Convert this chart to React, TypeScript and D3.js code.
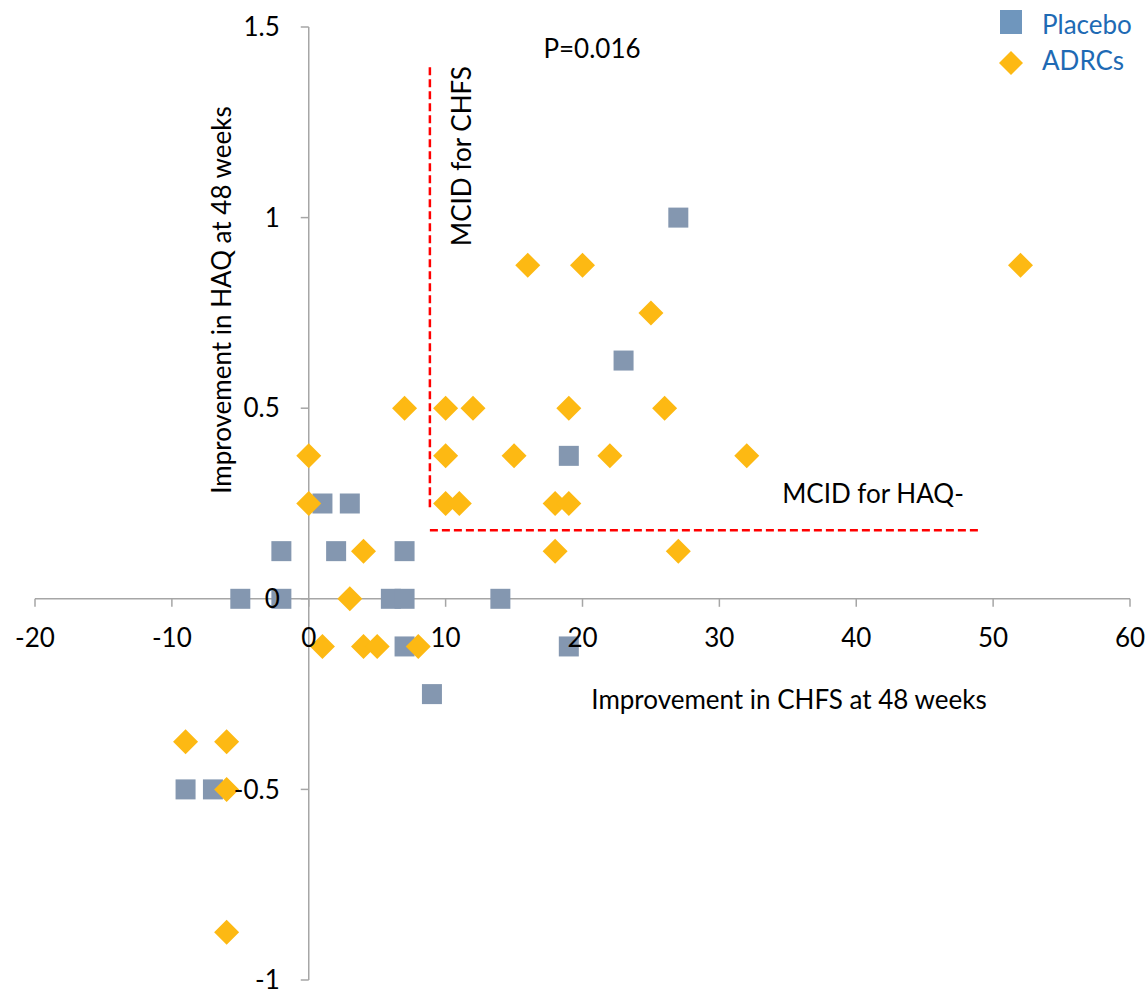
import React from "react";
import * as d3 from "d3";

const placeboX = [1, 3, -2, 2, 7, -5, -2, 6, 7, 14, 7, 9, 19, -9, -7, 27, 23, 19];
const placeboY = [0.25, 0.25, 0.125, 0.125, 0.125, 0, 0, 0, 0, 0, -0.125, -0.25, -0.125, -0.5, -0.5, 1.0, 0.625, 0.375];

const adrcX = [0, 10, 11, 18, 19, 4, 18, 27, 3, 1, 4, 5, 8, -9, -6, -6, -6, 0, 10, 15, 22, 32, 7, 10, 12, 19, 26, 25, 16, 20, 52];
const adrcY = [0.25, 0.25, 0.25, 0.25, 0.25, 0.125, 0.125, 0.125, 0, -0.125, -0.125, -0.125, -0.125, -0.375, -0.375, -0.5, -0.875, 0.375, 0.375, 0.375, 0.375, 0.375, 0.5, 0.5, 0.5, 0.5, 0.5, 0.75, 0.875, 0.875, 0.875];

const xTicks = [-20, -10, 0, 10, 20, 30, 40, 50, 60];
const yTicks = [-1, -0.5, 0, 0.5, 1, 1.5];

const mcidChfs = 8.85;
const mcidChfsRange = [0.24, 1.4];
const mcidHaq = 0.18;
const mcidHaqRange = [8.85, 49];

const seriesNames = ["Placebo", "ADRCs"];

const W = 1146;
const H = 995;
const FONT = "Lato, 'Open Sans', sans-serif";
const FS = 26;

export default function App() {
  const x = d3.scaleLinear().domain([-20, 60]).range([35, 1130]);
  const y = d3.scaleLinear().domain([-1, 1.5]).range([980, 27]);
  const x0 = x(0);
  const y0 = y(0);
  const axisColor = "#A6A6A6";
  const sq = 20;
  const dh = 12.5;
  const diamond = (cx: number, cy: number) =>
    `M${cx},${cy - dh}L${cx + dh},${cy}L${cx},${cy + dh}L${cx - dh},${cy}Z`;

  return (
    <svg width={W} height={H} style={{ position: "absolute", left: 0, top: 0, background: "#fff" }} fontFamily={FONT}>
      <rect width={W} height={H} fill="#fff" />
      {/* axes */}
      <line x1={x(-20)} x2={x(60)} y1={y0} y2={y0} stroke={axisColor} strokeWidth={1.5} />
      <line x1={x0} x2={x0} y1={y(1.5)} y2={y(-1)} stroke={axisColor} strokeWidth={1.5} />
      {xTicks.map((t) => (
        <line key={"xt" + t} x1={x(t)} x2={x(t)} y1={y0} y2={y0 + 8} stroke={axisColor} strokeWidth={1.5} />
      ))}
      {yTicks.map((t) => (
        <line key={"yt" + t} x1={x0 - 8} x2={x0} y1={y(t)} y2={y(t)} stroke={axisColor} strokeWidth={1.5} />
      ))}
      {/* MCID lines */}
      <line
        x1={x(mcidChfs)} x2={x(mcidChfs)} y1={y(mcidChfsRange[0])} y2={y(mcidChfsRange[1])}
        stroke="#FF0000" strokeWidth={2.5} strokeDasharray="8,4"
      />
      <line
        x1={x(mcidHaqRange[0])} x2={x(mcidHaqRange[1])} y1={y(mcidHaq)} y2={y(mcidHaq)}
        stroke="#FF0000" strokeWidth={2.5} strokeDasharray="8,4"
      />
      {/* points */}
      {placeboX.map((v, i) => (
        <rect key={"p" + i} x={x(v) - sq / 2} y={y(placeboY[i]) - sq / 2} width={sq} height={sq} fill="#8497B0" />
      ))}
      {adrcX.map((v, i) => (
        <path key={"a" + i} d={diamond(x(v), y(adrcY[i]))} fill="#FDB913" />
      ))}
      {/* tick labels */}
      {xTicks.map((t) => (
        <text key={"xl" + t} x={x(t)} y={y0 + 48} textAnchor="middle" fontSize={FS} fill="#000">
          {t}
        </text>
      ))}
      {yTicks.map((t) => (
        <text key={"yl" + t} x={x0 - 29} y={y(t)} dy="0.35em" textAnchor="end" fontSize={FS} fill="#000">
          {t}
        </text>
      ))}
      {/* texts */}
      <text x={222} y={300} transform="rotate(-90 222 300)" textAnchor="middle" dy="0.35em" fontSize={FS} fill="#000">
        Improvement in HAQ at 48 weeks
      </text>
      <text x={789} y={709} textAnchor="middle" fontSize={FS} fill="#000">
        Improvement in CHFS at 48 weeks
      </text>
      <text x={592} y={58} textAnchor="middle" fontSize={FS} fill="#000">
        P=0.016
      </text>
      <text x={471} y={156} transform="rotate(-90 471 156)" textAnchor="middle" fontSize={FS} fill="#000">
        MCID for CHFS
      </text>
      <text x={873} y={503} textAnchor="middle" fontSize={FS} fill="#000">
        MCID for HAQ-
      </text>
      {/* legend */}
      <rect x={1000} y={10} width={22} height={24} fill="#6F96BD" />
      <text x={1042} y={34} fontSize={FS} fill="#1E6AB4">{seriesNames[0]}</text>
      <path d={`M1011,51L1023,63L1011,75L999,63Z`} fill="#FDB913" />
      <text x={1042} y={70} fontSize={FS} fill="#1E6AB4">{seriesNames[1]}</text>
    </svg>
  );
}
